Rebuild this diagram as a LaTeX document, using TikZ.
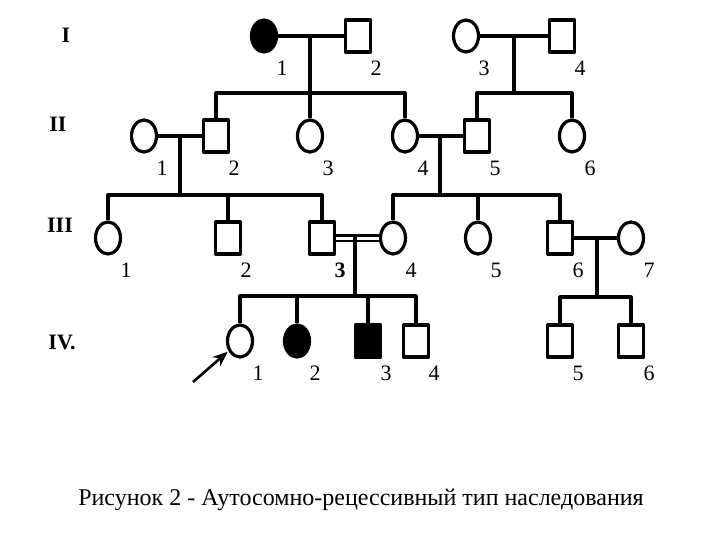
\documentclass[tikz,border=0pt]{standalone}
\usepackage{fontspec}
\setmainfont{Liberation Serif}
\usetikzlibrary{shapes.geometric,arrows.meta}

\begin{document}
\begin{tikzpicture}[
        x=1pt, y=-1pt,
        line width=3.2pt, line join=round,
        person/.style={draw, inner sep=0pt, minimum width=25pt, minimum height=32pt},
        male/.style={person, rectangle},
        female/.style={person, ellipse},
        sick/.style={fill=black},
        num/.style={font=\fontsize{22}{22}\selectfont, xshift=18pt, yshift=-32pt},
        gen/.style={font=\fontsize{22}{22}\selectfont\bfseries}
    ]
    \useasboundingbox (0,0) rectangle (720,540);

    % generations
    \node[gen] (gI)   at (66,35)  {I};
    \node[gen] (gII)  at (58,124) {II};
    \node[gen] (gIII) at (60,225) {III};
    \node[gen] (gIV)  at (62,342) {IV.};

    % I
    \node[female, sick, label={[num]center:1}] (I1) at (264,36) {};
    \node[male,   label={[num]center:2}] (I2) at (358,36) {};
    \node[female, label={[num]center:3}] (I3) at (466,36) {};
    \node[male,   label={[num]center:4}] (I4) at (562,36) {};

    % II
    \node[female, label={[num]center:1}] (II1) at (144,136) {};
    \node[male,   label={[num]center:2}] (II2) at (216,136) {};
    \node[female, label={[num]center:3}] (II3) at (310,136) {};
    \node[female, label={[num]center:4}] (II4) at (405,136) {};
    \node[male,   label={[num]center:5}] (II5) at (477,136) {};
    \node[female, label={[num]center:6}] (II6) at (572,136) {};

    % III
    \node[female, label={[num]center:1}] (III1) at (108,238) {};
    \node[male,   label={[num]center:2}] (III2) at (228,238) {};
    \node[male,   label={[num,font=\fontsize{22}{22}\selectfont\bfseries]center:3}] (III3) at (322,238) {};
    \node[female, label={[num]center:4}] (III4) at (393,238) {};
    \node[female, label={[num]center:5}] (III5) at (478,238) {};
    \node[male,   label={[num]center:6}] (III6) at (560,238) {};
    \node[female, label={[num]center:7}] (III7) at (631,238) {};

    % IV
    \node[female, label={[num]center:1}] (IV1) at (240,341) {};
    \node[female, sick, label={[num]center:2}] (IV2) at (297,341) {};
    \node[male, sick,   label={[num]center:3}] (IV3) at (368,341) {};
    \node[male,   label={[num]center:4}] (IV4) at (416,341) {};
    \node[male,   label={[num]center:5}] (IV5) at (560,341) {};
    \node[male,   label={[num]center:6}] (IV6) at (631,341) {};

    \path (310,36)  coordinate (m1) (310,93)  coordinate (s1)
          (514,36)  coordinate (m2) (514,93)  coordinate (s2)
          (180,136) coordinate (m3) (180,195) coordinate (s3)
          (440,136) coordinate (m4) (440,195) coordinate (s4)
          (355,236) coordinate (m5) (355,296) coordinate (s5)
          (597,238) coordinate (m6) (597,297) coordinate (s6)
          (193,382) coordinate (proband);

    % marriages
    \draw (I1) -- (I2);
    \draw (I3) -- (I4);
    \draw (II1) -- (II2);
    \draw (II4) -- (II5);
    \draw[double, line width=2.2pt, double distance=3pt] (III3) -- (III4);
    \draw (III6) -- (III7);

    % descent and sibships
    \draw (m1) -- (s1);
    \draw (II2) |- (s1) -| (II4);
    \draw (II3) -- (s1);
    \draw (m2) -- (s2);
    \draw (II5) |- (s2) -| (II6);
    \draw (m3) -- (s3);
    \draw (III1) |- (s3) -| (III3);
    \draw (III2) -- (III2 |- s3);
    \draw (m4) -- (s4);
    \draw (III4) |- (s4) -| (III6);
    \draw (III5) -- (III5 |- s4);
    \draw (m5) -- (s5);
    \draw (IV1) |- (s5) -| (IV4);
    \draw (IV2) -- (IV2 |- s5);
    \draw (IV3) -- (IV3 |- s5);
    \draw (m6) -- (s6);
    \draw (IV5) |- (s6) -| (IV6);

    \draw[line width=2.6pt, -{Stealth[length=15pt,width=12pt]}, shorten >=1pt] (proband) -- (IV1);

    \node[font=\fontsize{24}{24}\selectfont] (caption) at (361,500)
        {Рисунок 2 - Аутосомно-рецессивный тип наследования};
\end{tikzpicture}
\end{document}
